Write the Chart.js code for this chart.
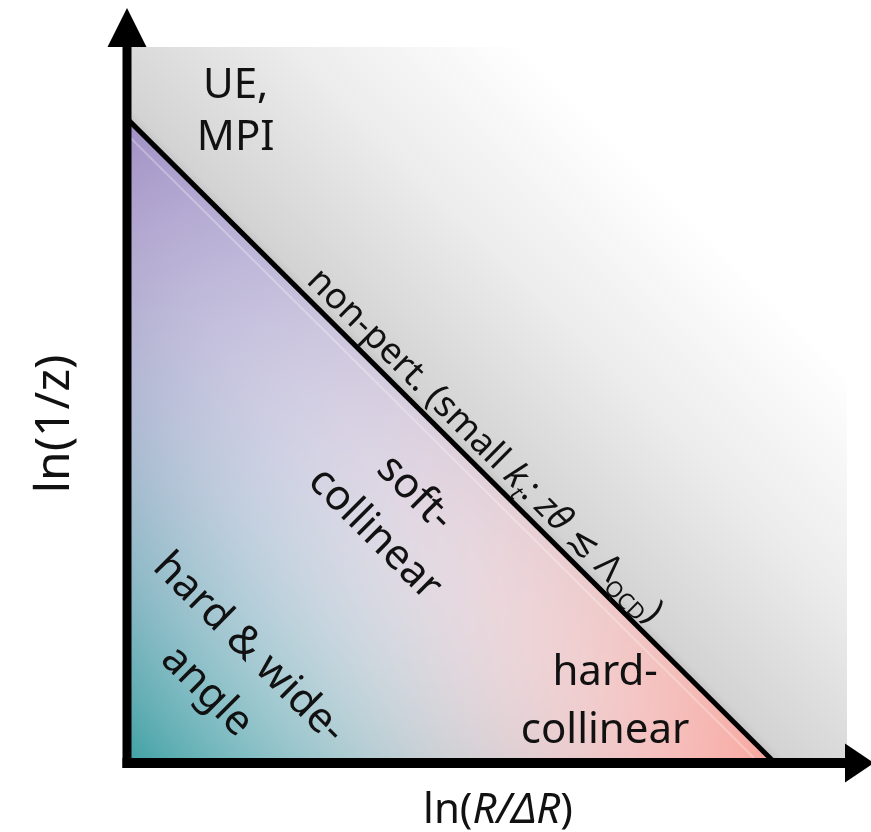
<!DOCTYPE html>
<html><head><meta charset="utf-8">
<script src="https://cdn.jsdelivr.net/npm/chart.js@4/dist/chart.umd.min.js"></script>
<style>html,body{margin:0;padding:0;background:#fff;overflow:hidden}#wrap{width:871px;height:832px}</style>
</head><body><div id="wrap"><canvas id="c" width="871" height="832"></canvas></div>
<script>
// ---- data (schematic log units) ----
const lnRdRRange = [0, 10];          // x axis: ln(R/ΔR)
const lnInvZRange = [0, 10];         // y axis: ln(1/z)
const boundaryLnRdR = [0, 9];        // non-perturbative boundary k_t ~ Λ_QCD
const boundaryLnInvZ = [9, 0];
const npRegionLnRdR = [0, 9, 10];    // lower edge of the grey (non-pert.) region
const npRegionLnInvZ = [9, 0, 0];
const axisTitleX = ['ln(', 'R/ΔR', ')'];
const axisTitleY = 'ln(1/z)';
const regionNames = ['UE,\nMPI', 'soft-\ncollinear', 'hard & wide-\nangle', 'hard-\ncollinear'];
const boundaryLabel = [['non-pert. (small ', 'n'], ['k', 'i'], ['t', 'si'], [': ', 'n'], ['zθ', 'i'], [' ≲ ', 'n'], ['Λ', 'n'], ['QCD', 's'], [')', 'n']];

// ---- layout / style (not data) ----
const FONT = "'Noto Sans','DejaVu Sans',sans-serif";
const regionLayout = [
  {x: 1.51, y: 9.29, rot: false, size: 42, lh: 52},
  {x: 3.72, y: 3.48, rot: true, size: 42, lh: 57},
  {x: 1.40, y: 1.30, rot: true, size: 42, lh: 60},
  {x: 6.64, y: 1.09, rot: false, size: 42, lh: 58}
];
const cornerColors = {
  teal: [62,160,163], purple: [160,143,196], salmon: [247,166,158],
  midLeft: [170,186,208], midBottom: [206,208,213], midDiag: [221,208,220]
};

const toPts = (xs, ys) => xs.map((x, i) => ({x: x, y: ys[i]}));

function boundaryPixels(chart) {
  const sx = chart.scales.x, sy = chart.scales.y;
  return {
    x0: sx.getPixelForValue(boundaryLnRdR[0]), y0: sy.getPixelForValue(boundaryLnInvZ[0]),
    x1: sx.getPixelForValue(boundaryLnRdR[1]), y1: sy.getPixelForValue(boundaryLnInvZ[1]),
    ox: sx.getPixelForValue(lnRdRRange[0]), oy: sy.getPixelForValue(lnInvZRange[0])
  };
}

function greyGradient(context) {
  const chart = context.chart;
  if (!chart.chartArea) return 'rgba(0,0,0,0)';
  const b = boundaryPixels(chart);
  const dx = b.x1 - b.x0, dy = b.y1 - b.y0, L = Math.hypot(dx, dy);
  const nx = dy / L, ny = -dx / L;
  const mx = (b.x0 + b.x1) / 2, my = (b.y0 + b.y1) / 2;
  const g = chart.ctx.createLinearGradient(mx, my, mx + nx * 330, my + ny * 330);
  g.addColorStop(0, '#c4c4c4');
  g.addColorStop(0.03, '#d3d3d3');
  g.addColorStop(0.5, '#ececec');
  g.addColorStop(1, '#ffffff');
  return g;
}

let triPattern = null;
function trianglePattern(context) {
  const chart = context.chart;
  if (!chart.chartArea) return 'rgba(0,0,0,0)';
  if (triPattern) return triPattern;
  const b = boundaryPixels(chart);
  const W = chart.width, H = chart.height;
  const off = document.createElement('canvas');
  off.width = W; off.height = H;
  const octx = off.getContext('2d');
  const img = octx.createImageData(W, H);
  const C = cornerColors;
  const T = C.teal, P = C.purple, S = C.salmon;
  const e = (m, p, q) => m.map((v, i) => 2 * v - 0.5 * (p[i] + q[i]));
  const TP = e(C.midLeft, T, P), TS = e(C.midBottom, T, S), PS = e(C.midDiag, P, S);
  const x0 = Math.floor(b.ox) - 6, x1 = Math.ceil(b.x1) + 6;
  const y0 = Math.floor(b.y0) - 6, y1 = Math.ceil(b.oy) + 6;
  for (let py = Math.max(0, y0); py < Math.min(H, y1); py++) {
    for (let px = Math.max(0, x0); px < Math.min(W, x1); px++) {
      let u = (px - b.ox) / (b.x1 - b.ox), v = (b.oy - py) / (b.oy - b.y0);
      u = Math.max(0, Math.min(1, u)); v = Math.max(0, Math.min(1, v));
      if (u + v > 1) { const s = u + v; u /= s; v /= s; }
      const a = 1 - u - v, bb = v, c = u;
      const k = (py * W + px) * 4;
      for (let i = 0; i < 3; i++) {
        const val = a*a*T[i] + bb*bb*P[i] + c*c*S[i] + 2*a*bb*TP[i] + 2*a*c*TS[i] + 2*bb*c*PS[i];
        img.data[k + i] = Math.max(0, Math.min(255, val));
      }
      img.data[k + 3] = 255;
    }
  }
  octx.putImageData(img, 0, 0);
  triPattern = chart.ctx.createPattern(off, 'no-repeat');
  return triPattern;
}

function drawMultiline(ctx, text, lh) {
  const lines = text.split('\n');
  lines.forEach((ln, i) => ctx.fillText(ln, 0, (i - (lines.length - 1) / 2) * lh));
}

const decor = {
  id: 'decor',
  afterDatasetsDraw(chart) {
    const ctx = chart.ctx, a = chart.chartArea;
    const b = boundaryPixels(chart);
    ctx.save();
    // faint highlight inside the perturbative triangle along the boundary
    const dx = b.x1 - b.x0, dy = b.y1 - b.y0, L = Math.hypot(dx, dy);
    const nx = -dy / L, ny = dx / L;
    ctx.strokeStyle = 'rgba(255,255,255,0.28)'; ctx.lineWidth = 2;
    ctx.beginPath(); ctx.moveTo(b.x0 + nx * 7, b.y0 + ny * 7 + 6); ctx.lineTo(b.x1 + nx * 7 - 16, b.y1 + ny * 7 - 10); ctx.stroke();
    // axes
    ctx.fillStyle = '#000';
    ctx.fillRect(a.left - 4.5, a.top, 9, a.bottom - a.top + 5);
    ctx.fillRect(a.left - 4.5, a.bottom - 5, a.right - a.left + 4.5, 10);
    ctx.beginPath();
    ctx.moveTo(a.left, a.top - 39); ctx.lineTo(a.left + 19.5, a.top); ctx.lineTo(a.left - 19.5, a.top); ctx.closePath(); ctx.fill();
    ctx.beginPath();
    ctx.moveTo(a.right + 27, a.bottom); ctx.lineTo(a.right - 2, a.bottom - 19.5); ctx.lineTo(a.right - 2, a.bottom + 19.5); ctx.closePath(); ctx.fill();
    ctx.restore();
  },
  afterDraw(chart) {
    const ctx = chart.ctx, sx = chart.scales.x, sy = chart.scales.y;
    const b = boundaryPixels(chart);
    const ang = Math.atan2(b.y1 - b.y0, b.x1 - b.x0);
    ctx.save();
    ctx.fillStyle = '#111';
    ctx.textAlign = 'center';
    // region names
    regionNames.forEach((name, i) => {
      const L = regionLayout[i];
      ctx.save();
      ctx.font = L.size + 'px ' + FONT;
      ctx.translate(sx.getPixelForValue(L.x), sy.getPixelForValue(L.y));
      if (L.rot) {
        ctx.rotate(ang); ctx.textBaseline = 'middle';
        drawMultiline(ctx, name, L.lh);
      } else {
        ctx.textBaseline = 'alphabetic';
        name.split('\n').forEach((ln, j) => ctx.fillText(ln, 0, j * L.lh));
      }
      ctx.restore();
    });
    // boundary label along the line
    {
      const t = 0.53, size = 36;
      const px = b.x0 + (b.x1 - b.x0) * t, py = b.y0 + (b.y1 - b.y0) * t;
      ctx.save();
      ctx.translate(px, py); ctx.rotate(ang);
      ctx.textAlign = 'left'; ctx.textBaseline = 'alphabetic';
      const fontFor = st => (st.includes('i') ? 'italic ' : '') + (st.includes('s') ? Math.round(size * 0.62) : size) + 'px ' + FONT;
      let total = 0;
      boundaryLabel.forEach(([s, st]) => { ctx.font = fontFor(st); total += ctx.measureText(s).width; });
      let x = -total / 2;
      const base = -10;
      boundaryLabel.forEach(([s, st]) => {
        ctx.font = fontFor(st);
        ctx.fillText(s, x, base + (st.includes('s') ? size * 0.22 : 0));
        x += ctx.measureText(s).width;
      });
      ctx.restore();
    }
    // x axis title with italic R/ΔR
    {
      const size = 42;
      const fonts = [size + 'px ' + FONT, 'italic ' + size + 'px ' + FONT, size + 'px ' + FONT];
      let total = 0;
      axisTitleX.forEach((s, i) => { ctx.font = fonts[i]; total += ctx.measureText(s).width; });
      const cx = (chart.chartArea.left + chart.chartArea.right) / 2 + 11;
      let x = cx - total / 2;
      ctx.textAlign = 'left'; ctx.textBaseline = 'alphabetic';
      axisTitleX.forEach((s, i) => { ctx.font = fonts[i]; ctx.fillText(s, x, 823); x += ctx.measureText(s).width; });
    }
    // y axis title
    {
      ctx.save();
      ctx.font = '48px ' + FONT;
      ctx.textAlign = 'center'; ctx.textBaseline = 'middle';
      ctx.translate(55, (chart.chartArea.top + chart.chartArea.bottom) / 2 + 19);
      ctx.rotate(-Math.PI / 2);
      ctx.fillText(axisTitleY, 0, 0);
      ctx.restore();
    }
    ctx.restore();
  }
};

const chart = new Chart(document.getElementById('c').getContext('2d'), {
  type: 'scatter',
  data: {
    datasets: [
      { label: 'non-perturbative', data: toPts(npRegionLnRdR, npRegionLnInvZ), showLine: true,
        borderWidth: 0, borderColor: 'rgba(0,0,0,0)', pointRadius: 0, fill: 'end', backgroundColor: greyGradient, order: 3 },
      { label: 'perturbative', data: toPts(boundaryLnRdR, boundaryLnInvZ), showLine: true,
        borderWidth: 0, borderColor: 'rgba(0,0,0,0)', pointRadius: 0, fill: 'origin', backgroundColor: trianglePattern, order: 2 },
      { label: 'k_t = Λ_QCD', data: toPts(boundaryLnRdR, boundaryLnInvZ), showLine: true,
        borderWidth: 5, borderColor: '#000', pointRadius: 0, fill: false, order: 1 }
    ]
  },
  options: {
    responsive: false, animation: false, devicePixelRatio: 1, events: [],
    layout: { padding: { left: 127, top: 47, right: 24, bottom: 69 }, autoPadding: false },
    plugins: { legend: { display: false }, tooltip: { enabled: false } },
    scales: {
      x: { type: 'linear', min: lnRdRRange[0], max: lnRdRRange[1], display: false },
      y: { type: 'linear', min: lnInvZRange[0], max: lnInvZRange[1], display: false }
    }
  },
  plugins: [decor]
});
</script></body></html>
